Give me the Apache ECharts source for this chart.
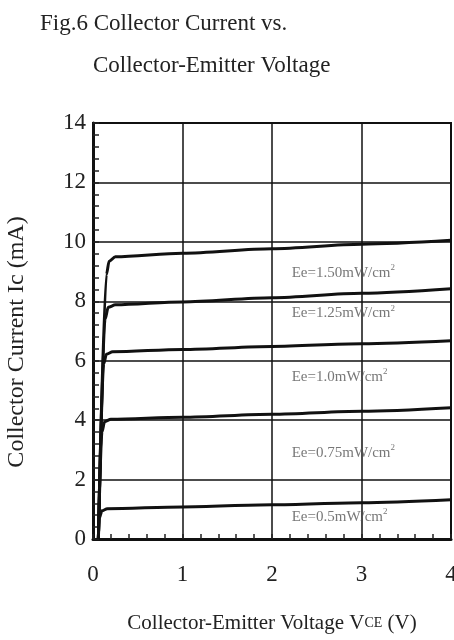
<!DOCTYPE html>
<html><head><meta charset="utf-8">
<script src="https://cdn.jsdelivr.net/npm/echarts@6/dist/echarts.min.js"></script>
<style>html,body{margin:0;padding:0;background:#fff;overflow:hidden}#c{width:454px;height:640px}</style>
</head><body><div id="c"></div>
<script>
const seriesNames = ['Ee=1.50', 'Ee=1.25', 'Ee=1.0', 'Ee=0.75', 'Ee=0.5'];
const vce150 = [0.06, 0.15, 0.18, 0.25, 1, 2, 3, 4];
const ic150  = [0, 8.9, 9.35, 9.5, 9.62, 9.77, 9.92, 10.05];
const vce125 = [0.06, 0.135, 0.17, 0.25, 1, 2, 3, 4];
const ic125  = [0, 7.4, 7.8, 7.88, 7.98, 8.12, 8.27, 8.42];
const vce100 = [0.06, 0.12, 0.15, 0.22, 1, 2, 3, 4];
const ic100  = [0, 5.9, 6.22, 6.3, 6.38, 6.48, 6.57, 6.67];
const vce075 = [0.06, 0.1, 0.13, 0.2, 1, 2, 3, 4];
const ic075  = [0, 3.6, 3.95, 4.03, 4.1, 4.2, 4.3, 4.42];
const vce050 = [0.06, 0.07, 0.1, 0.16, 1, 2, 3, 4];
const ic050  = [0, 0.7, 0.95, 1.02, 1.08, 1.15, 1.22, 1.32];
const xTicks = [0, 1, 2, 3, 4];
const yTicks = [0, 2, 4, 6, 8, 10, 12, 14];
const labelText = ['Ee=1.50mW/cm', 'Ee=1.25mW/cm', 'Ee=1.0mW/cm', 'Ee=0.75mW/cm', 'Ee=0.5mW/cm'];
const labelX = [2.22, 2.22, 2.22, 2.22, 2.22];
const labelY = [8.95, 7.6, 5.45, 2.9, 0.75];

const curves = [[vce150, ic150], [vce125, ic125], [vce100, ic100], [vce075, ic075], [vce050, ic050]];
const serif = '"Liberation Serif", "DejaVu Serif", serif';

const chart = echarts.init(document.getElementById('c'));
const lineSeries = curves.map((c, k) => ({
  name: seriesNames[k], type: 'line', showSymbol: false, smooth: 0.3, smoothMonotone: 'x',
  lineStyle: {color: '#111', width: 3}, data: c[0].map((v, j) => [v, c[1][j]]), z: 3
}));
const labelSeries = {
  type: 'scatter', symbolSize: 0, z: 4,
  data: labelX.map((x, k) => ({value: [x, labelY[k]], name: labelText[k]})),
  label: {show: true, position: 'right', distance: 0,
    formatter: p => '{t|' + p.name + '}{s|2}',
    rich: {t: {fontFamily: serif, fontSize: 15, color: '#555'},
           s: {fontFamily: serif, fontSize: 9, color: '#555', verticalAlign: 'top', padding: [0, 0, 10, 0]}}}
};
chart.setOption({
  animation: false,
  title: [
    {text: 'Fig.6 Collector Current vs.', left: 35, top: 7, textStyle: {fontFamily: serif, fontSize: 23, fontWeight: 'normal', color: '#222'}},
    {text: 'Collector-Emitter Voltage', left: 88, top: 49, textStyle: {fontFamily: serif, fontSize: 23, fontWeight: 'normal', color: '#222'}}
  ],
  grid: {left: 93, right: 3, top: 123, bottom: 101, show: true, borderColor: '#111', borderWidth: 2,
    backgroundColor: 'transparent', outerBoundsMode: 'none', containLabel: false},
  xAxis: {type: 'value', min: 0, max: 4, interval: 1,
    name: '{a|Collector-Emitter Voltage V}{b|CE}{a| (V)}', nameLocation: 'middle', nameGap: 74,
    nameTextStyle: {rich: {a: {fontFamily: serif, fontSize: 21, color: '#222'}, b: {fontFamily: serif, fontSize: 14, color: '#222'}}},
    axisLine: {lineStyle: {color: '#111', width: 3}},
    axisTick: {show: true, inside: true, length: 5, lineStyle: {color: '#222', width: 1.5}},
    minorTick: {show: true, splitNumber: 5, length: 5, lineStyle: {color: '#222', width: 1.5}},
    axisLabel: {fontFamily: serif, fontSize: 23, color: '#222', margin: 24, hideOverlap: false,
      formatter: v => xTicks.includes(v) ? String(v) : ''},
    splitLine: {show: true, lineStyle: {color: '#111', width: 1.5}}
  },
  yAxis: {type: 'value', min: 0, max: 14, interval: 2,
    name: 'Collector Current Ic (mA)', nameLocation: 'middle', nameGap: 64, nameRotate: 90,
    nameTextStyle: {fontFamily: serif, fontSize: 24, color: '#222', padding: [0, 22, 0, 0]},
    axisLine: {lineStyle: {color: '#111', width: 3}},
    axisTick: {show: true, inside: true, length: 6, lineStyle: {color: '#222', width: 1.5}},
    minorTick: {show: true, splitNumber: 5, length: 6, lineStyle: {color: '#222', width: 1.5}},
    axisLabel: {fontFamily: serif, fontSize: 23, color: '#222', margin: 7,
      formatter: v => yTicks.includes(v) ? String(v) : ''},
    splitLine: {show: true, lineStyle: {color: '#111', width: 1.5}}
  },
  series: [...lineSeries, labelSeries]
});
</script>
</body></html>
